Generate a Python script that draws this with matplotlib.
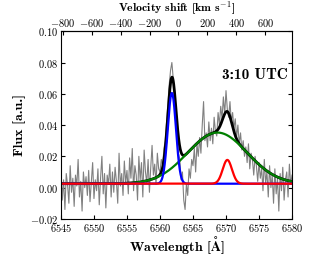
import numpy as np
import matplotlib
matplotlib.use("Agg")
import matplotlib.pyplot as plt

plt.rcParams["font.family"] = "serif"
plt.rcParams["font.serif"] = ["cmr10", "DejaVu Serif"]
plt.rcParams["mathtext.fontset"] = "cm"
plt.rcParams["axes.formatter.use_mathtext"] = True

# ---- observed spectrum (flux in units of 1e-3), 0.2 A sampling from 6545 A ---- #
wave_start, wave_step = 6545.0, 0.2
flux_milli = [
    12, -8, 5, -14, 9, 2, -10, 14, -3, 6,
    -12, 8, 1, 18, -6, 4, -15, 10, 0, 7,
    -5, 11, -9, 3, 16, -7, 5, -2, 12, -11,
    6, 20, -4, 9, -13, 8, 2, 15, -6, 10,
    -3, 13, 4, -10, 22, 1, 9, -5, 17, 3,
    11, -4, 19, 6, 25, -2, 14, 8, -8, 20,
    5, 16, -6, 24, 10, 3, 18, -3, 13, 27,
    8, 15, 2, 22, 12, 10, 18, 14, 25, 30,
    42, 55, 66, 75, 80, 70, 62, 48, 35, 22,
    18, 5, 10, -8, -14, 2, -5, 12, 6, 18,
    14, 25, 10, 28, 20, 32, 22, 40, 55, 30,
    35, 26, 42, 30, 38, 28, 45, 36, 33, 48,
    40, 52, 44, 58, 47, 62, 50, 45, 55, 42,
    48, 38, 44, 32, 40, 28, 35, 24, 30, 20,
    26, 16, 28, 12, 22, 18, 8, 20, 14, 4,
    16, 6, 12, -2, 18, 3, 10, -6, 14, 0,
    8, -10, 12, -4, 6, -15, 9, -2, 13, -8,
    5, 10, -6, 15, 2, 8,
]

# ---- Gaussian fit components: amplitude, centre [A], sigma [A] ---- #
baseline = 0.0025
blue_fit = [0.058, 6561.8, 0.62]
green_fit = [0.0327, 6568.7, 4.5]
red_fit = [0.0152, 6570.2, 0.7]

LAMBDA0 = 6562.8
C_KMS = 299792.458


def gauss(x, p):
    return p[0] * np.exp(-0.5 * ((x - p[1]) / p[2]) ** 2)


flux = np.array(flux_milli) * 1e-3
wave = wave_start + wave_step * np.arange(len(flux))
xm = np.linspace(6545, 6580, 1200)
g_blue = gauss(xm, blue_fit)
g_green = gauss(xm, green_fit)
g_red = gauss(xm, red_fit)
total = baseline + g_blue + g_green + g_red

fig = plt.figure(figsize=(3.11, 2.56), dpi=100)
ax = fig.add_axes([0.196, 0.145, 0.743, 0.733])

ax.plot(wave, flux, color="0.5", lw=0.8)
ax.plot(xm, total, color="black", lw=2.0)
ax.plot(xm, baseline + g_green, color="green", lw=1.6)
ax.plot(xm, baseline + g_blue, color="blue", lw=1.6)
ax.plot(xm, baseline + g_red, color="red", lw=1.6)

ax.set_xlim(6545, 6580)
ax.set_ylim(-0.02, 0.10)
ax.set_xticks(np.arange(6545, 6581, 5))
ax.set_yticks(np.arange(-0.02, 0.101, 0.02))
ax.tick_params(direction="in", top=False, right=True, labelsize=7.5,
               length=3, pad=2)
ax.set_xlabel(r"Wavelength [$\mathbf{\AA}$]", fontsize=10, labelpad=0,
              family="cmb10")
ax.set_ylabel("Flux [a.u.]", fontsize=10, labelpad=3, family="cmb10")

secax = ax.secondary_xaxis(
    "top",
    functions=(lambda l: (l - LAMBDA0) / LAMBDA0 * C_KMS,
               lambda v: LAMBDA0 * (1 + v / C_KMS)))
secax.set_xticks(np.arange(-800, 601, 200))
secax.tick_params(direction="in", labelsize=7.5, length=3, pad=1.5)
secax.set_xlabel(r"Velocity shift [km s$^{-1}$]", fontsize=8.5,
                 labelpad=4, family="cmb10")

ax.text(0.697, 0.767, "3:10 UTC", transform=ax.transAxes,
        ha="left", va="center", fontsize=11, family="cmb10")

fig.savefig("out.png", dpi=100)
